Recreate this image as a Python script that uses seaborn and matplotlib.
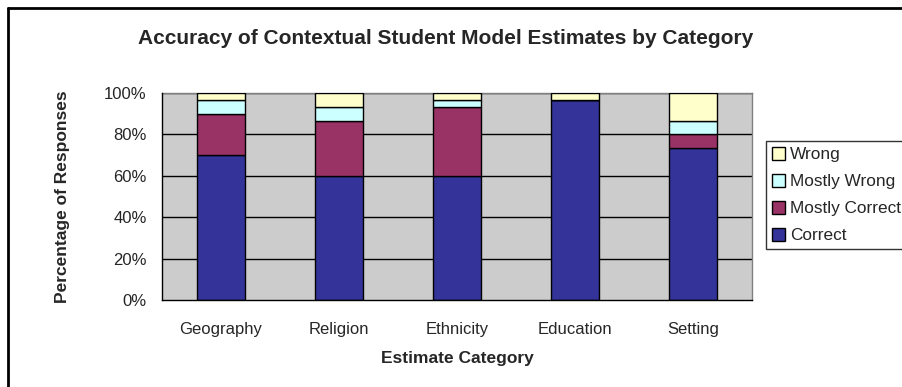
import matplotlib
matplotlib.use('Agg')
import matplotlib.pyplot as plt
import seaborn as sns
import pandas as pd
from matplotlib.lines import Line2D

# values, % of responses
categories = ['Geography', 'Religion', 'Ethnicity', 'Education', 'Setting']
correct = [70.0, 60.0, 60.0, 96.7, 73.3]
mostly_correct = [20.0, 26.7, 33.3, 0.0, 6.7]
mostly_wrong = [6.7, 6.7, 3.3, 0.0, 6.7]
wrong = [3.3, 6.7, 3.3, 3.3, 13.3]

series = ['Correct', 'Mostly Correct', 'Mostly Wrong', 'Wrong']
colors = ['#333399', '#993366', '#CCFFFF', '#FFFFCC']

df = pd.DataFrame({'category': categories, 'Correct': correct,
                   'Mostly Correct': mostly_correct,
                   'Mostly Wrong': mostly_wrong, 'Wrong': wrong})

sns.set_style('white')
plt.rcParams['font.family'] = ['Liberation Sans', 'DejaVu Sans']

fig = plt.figure(figsize=(9.03, 3.87), dpi=100)
ax = fig.add_axes([162 / 903, 1 - 300 / 387, 590 / 903, 207 / 387])
ax.set_facecolor('#CCCCCC')

bottom = [0.0] * len(categories)
for name, col in zip(series, colors):
    sns.barplot(data=df, x='category', y=name, bottom=bottom, color=col,
                width=0.4, edgecolor='black', linewidth=1.0, saturation=1,
                ax=ax, zorder=3, label=name)
    bottom = [b + v for b, v in zip(bottom, df[name])]

ax.set_ylim(0, 100)
ax.set_xlim(-0.5, 4.5)
ax.set_yticks(range(0, 101, 20))
ax.set_yticklabels([f'{v}%' for v in range(0, 101, 20)], fontsize=12)
for v in range(20, 101, 20):
    ax.axhline(v, color='black', lw=1, zorder=1)

ax.set_xticks([i - 0.5 for i in range(6)])
ax.set_xticklabels([])
ax.set_xticks(range(5), minor=True)
ax.set_xticklabels(categories, minor=True, fontsize=12)
ax.tick_params(axis='x', which='minor', length=0, pad=16)
ax.tick_params(axis='x', which='major', length=5, width=1, color='black', direction='out')
ax.tick_params(axis='y', length=5, width=1, color='black', direction='out', pad=6)

for s in ['top', 'right']:
    ax.spines[s].set_color('#808080')
    ax.spines[s].set_linewidth(1)
for s in ['left', 'bottom']:
    ax.spines[s].set_color('black')
    ax.spines[s].set_linewidth(1)
    ax.spines[s].set_zorder(4)

ax.set_xlabel('Estimate Category', fontsize=12.5, fontweight='bold', va='center')
ax.xaxis.set_label_coords(0.5, (300 - 359) / 207)
ax.set_ylabel('Percentage of Responses', fontsize=12.5, fontweight='bold', va='center')
ax.yaxis.set_label_coords((62 - 162) / 590, 0.5)
fig.text(446 / 903, 1 - 38 / 387,
         'Accuracy of Contextual Student Model Estimates by Category',
         ha='center', va='center', fontsize=15, fontweight='bold')

handles, labels = ax.get_legend_handles_labels()
leg = ax.legend(handles[::-1], labels[::-1], loc='upper left',
                bbox_to_anchor=(766 / 903, 1 - 141 / 387),
                bbox_transform=fig.transFigure, borderaxespad=0,
                frameon=True, fancybox=False, edgecolor='black',
                fontsize=12.4, handlelength=0.75, handleheight=0.75,
                handletextpad=0.3, labelspacing=0.68, borderpad=0.35)
leg.get_frame().set_linewidth(1)

# outer chart border (left and top edges are visible)
fig.add_artist(Line2D([8 / 903, 8 / 903], [0, 1 - 8 / 387], color='black', lw=2,
                      transform=fig.transFigure))
fig.add_artist(Line2D([8 / 903, 1], [1 - 8 / 387, 1 - 8 / 387], color='black', lw=2,
                      transform=fig.transFigure))

fig.savefig('out.png', dpi=100)
